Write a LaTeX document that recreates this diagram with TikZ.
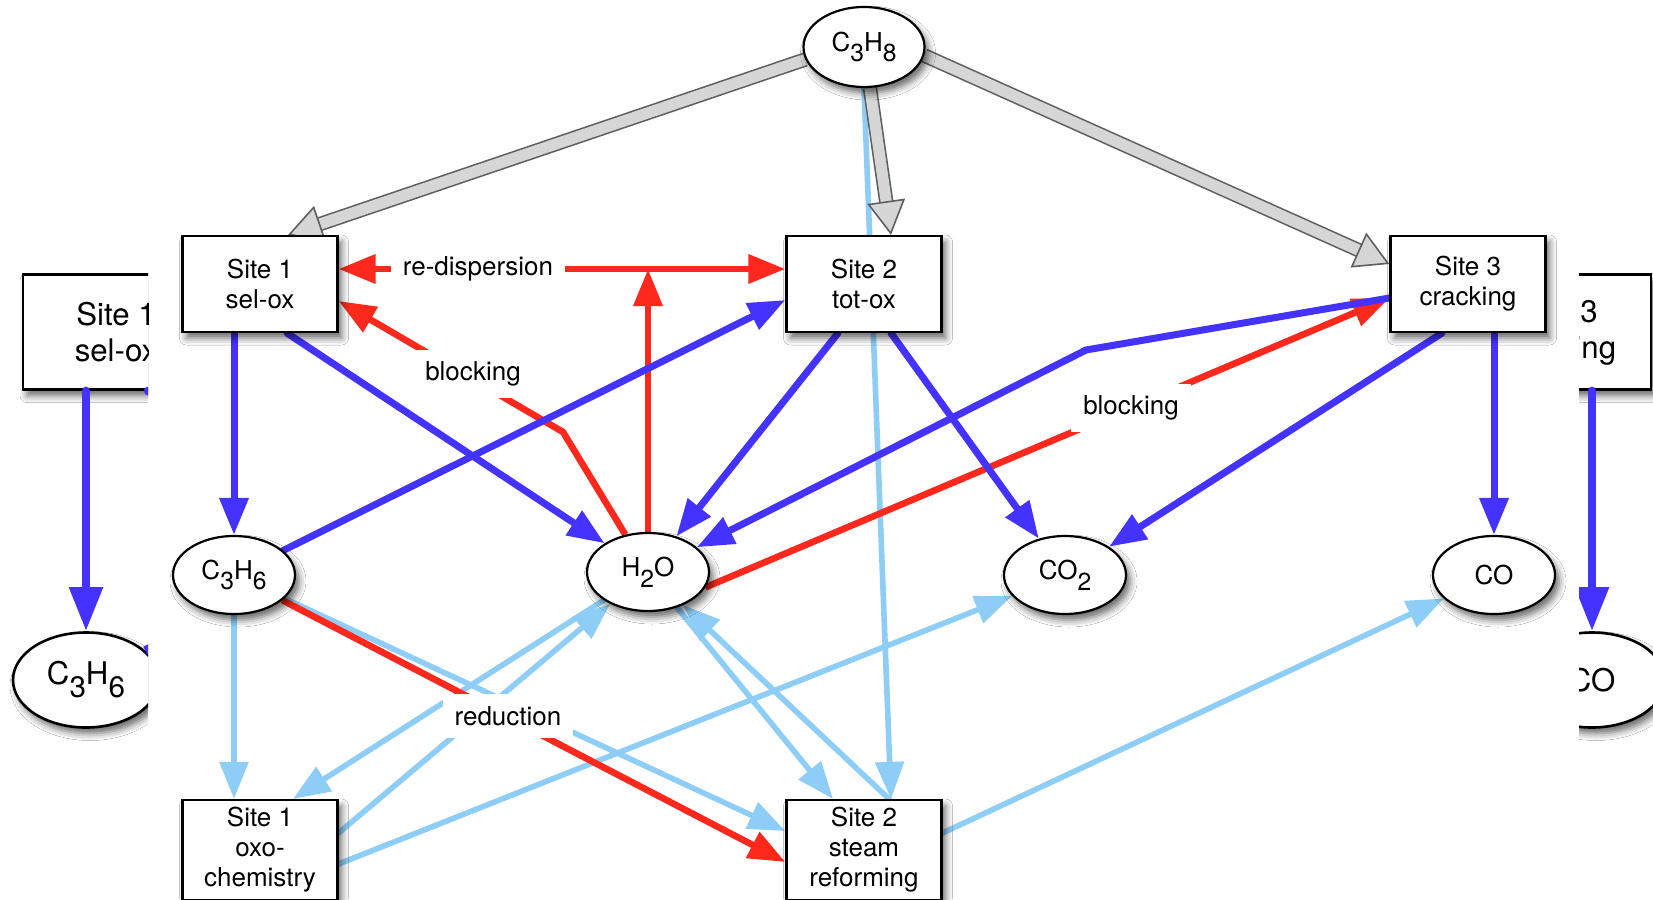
\documentclass[tikz,border=0pt]{standalone}
\usepackage{fontspec}
\setmainfont{TeX Gyre Heros}
\usetikzlibrary{arrows.meta,calc,shapes.geometric,shadows.blur}
\definecolor{rxblue}{RGB}{68,51,255}
\definecolor{rxred}{RGB}{255,40,28}
\definecolor{rxsky}{RGB}{142,206,246}
\definecolor{rxgrayfill}{RGB}{214,214,214}
\definecolor{rxgrayline}{RGB}{95,95,95}
\pgfdeclarelayer{background}
\pgfsetlayers{background,main}
\newcommand{\chsub}[1]{\raisebox{-0.8ex}{\scalebox{0.95}{#1}}}

\tikzset{
  site/.style={draw, line width=1.1pt, fill=white, minimum width=77.5pt, minimum height=48pt,
    align=center, inner sep=2pt,
    blur shadow={shadow xshift=2pt, shadow yshift=-3pt, shadow blur radius=3.5pt, shadow opacity=60}},
  species/.style={ellipse, draw, line width=1.1pt, fill=white, minimum width=61pt, minimum height=39pt,
    inner sep=0pt,
    blur shadow={shadow xshift=2pt, shadow yshift=-3pt, shadow blur radius=3.5pt, shadow opacity=60}},
  bigsite/.style={site, minimum width=93pt, minimum height=57.5pt, line width=1.3pt,
    font=\fontsize{15.6}{18}\selectfont},
  bigspecies/.style={species, minimum width=73pt, minimum height=47.5pt, line width=1.3pt,
    font=\fontsize{15.6}{18}\selectfont},
  oxpath/.style={line width=3.5pt, rxblue, line cap=round, ->},
  redpath/.style={line width=3.3pt, rxred, ->},
  skypath/.style={line width=2.8pt, rxsky, line cap=round, ->},
  feedpath/.style={draw=rxgrayline, line width=0.8pt, double=rxgrayfill, double distance=5.6pt,
    -{Triangle[open, fill=rxgrayfill, length=17pt, width=19pt]}},
  lbl/.style={fill=white, inner sep=6pt},
}

\begin{document}
\begin{tikzpicture}[x=0.5pt, y=-0.5pt, font=\fontsize{13}{15}\selectfont,
  >={Triangle[length=18.5pt,width=14pt]}]
\useasboundingbox (0,0) rectangle (1653,899);

% Feed
\node[species, minimum width=60.5pt, minimum height=40pt] (c3h8) at (864,47) {C\chsub{3}H\chsub{8}};

% Sites
\node[site] (s1sel) at (260,284) {Site 1\\sel-ox};
\node[site] (s2tot) at (864,284) {Site 2\\tot-ox};
\node[site] (s3crk) at (1468,284) {Site 3\\cracking};
\node[site, minimum height=50pt] (s1oxo) at (260,850) {Site 1\\oxo-\\chemistry};
\node[site, minimum height=50pt] (s2st) at (864,850) {Site 2\\steam\\reforming};

% Products
\node[species] (c3h6) at (234,575) {C\chsub{3}H\chsub{6}};
\node[species] (h2o) at (648,572) {H\chsub{2}O};
\node[species] (co2) at (1065,575) {CO\chsub{2}};
\node[species] (co) at (1494,575) {CO};

\begin{pgfonlayer}{background}
\fill[white] (0,0) rectangle (1653,899);

% enlarged copy showing at both edges
\begin{scope}
\clip (0,0) rectangle (148,899);
\node[bigsite] (g1sel) at (116,332) {Site 1\\sel-ox};
\node[bigspecies] (g1c3h6) at (86,680) {C\chsub{3}H\chsub{6}};
\draw[oxpath, line width=4.2pt, -{Triangle[length=22pt,width=16pt]}] (g1c3h6.north |- g1sel.south) -- (g1c3h6.north);
\draw[line width=4.2pt, rxblue, line cap=round] ($(g1sel.south)+(32,0)$) -- ++(40,26);
\draw[line width=4.2pt, rxblue] (g1c3h6) -- ++(110,-55);
\end{scope}
\begin{scope}
\clip (1579,0) rectangle (1653,899);
\node[bigsite] (g3crk) at (1558,332) {Site 3\\cracking};
\node[bigspecies] (g3co) at (1592,680) {CO};
\draw[oxpath, line width=4.2pt, -{Triangle[length=22pt,width=16pt]}] (g3co.north |- g3crk.south) -- (g3co.north);
\end{scope}

% Steam reforming and oxo-chemistry
\draw[skypath] (c3h8.south) -- ($(s2st.north)+(27,0)$);
\draw[skypath] (c3h6.south) -- (c3h6.south |- s1oxo.north);
\draw[skypath] (c3h6) -- ($(s2st.west)+(0,-19)$);
\draw[skypath] (h2o) -- ($(s1oxo.north)+(33,0)$);
\draw[skypath] ($(s1oxo.east)+(0,-17)$) -- (h2o);
\draw[skypath] ($(s1oxo.east)+(0,14)$) -- (co2);
\draw[skypath] (h2o) -- ($(s2st.north)+(-31,0)$);
\draw[skypath] ($(s2st.north)+(25,0)$) -- (h2o);
\draw[skypath] ($(s2st.east)+(0,-17)$) -- (co);

% Water effects
\coordinate (rdL) at ($(s1sel.east)+(0,-15)$);
\coordinate (rdR) at ($(s2tot.west)+(0,-15)$);
\coordinate (blkbend) at (563,432);
\draw[redpath, <->] (rdL) -- (rdR);
\draw[redpath] (h2o.north) -- (h2o.north |- rdL);
\draw[redpath] (h2o) -- (blkbend) -- ($(s1sel.east)+(0,17)$);
\draw[redpath] (h2o.-15) -- ($(s3crk.west)+(0,14)$);
\draw[redpath] (c3h6) -- ($(s2st.west)+(0,12)$);

% Oxidation and cracking
\coordinate (crkbend) at (1086,350);
\draw[oxpath] (s1sel.south -| c3h6) -- (c3h6.north);
\draw[oxpath] ($(s1sel.south)+(27,0)$) -- (h2o);
\draw[oxpath] (c3h6) -- ($(s2tot.west)+(0,16)$);
\draw[oxpath] ($(s2tot.south)+(-26,0)$) -- (h2o);
\draw[oxpath] ($(s2tot.south)+(27,0)$) -- (co2);
\draw[oxpath] ($(s3crk.west)+(0,14)$) -- (crkbend) -- (h2o);
\draw[oxpath] ($(s3crk.south)+(-26,0)$) -- (co2);
\draw[oxpath] (s3crk.south -| co) -- (co.north);

% Propane feed
\draw[feedpath] (c3h8.192) -- ($(s1sel.north)+(28,0)$);
\draw[feedpath] ($(c3h8.south)+(6,0)$) -- ($(s2tot.north)+(27,0)$);
\draw[feedpath] (c3h8.-8) -- ($(s3crk.west)+(0,-20)$);
\end{pgfonlayer}

% Labels
\node[lbl] (lblredisp) at (478,269) {re-dispersion};
\node[lbl] (lblblock1) at (473,374) {blocking};
\node[lbl] (lblblock2) at (1131,408) {blocking};
\node[lbl] (lblreduc) at (508,716) {reduction};
\end{tikzpicture}
\end{document}
